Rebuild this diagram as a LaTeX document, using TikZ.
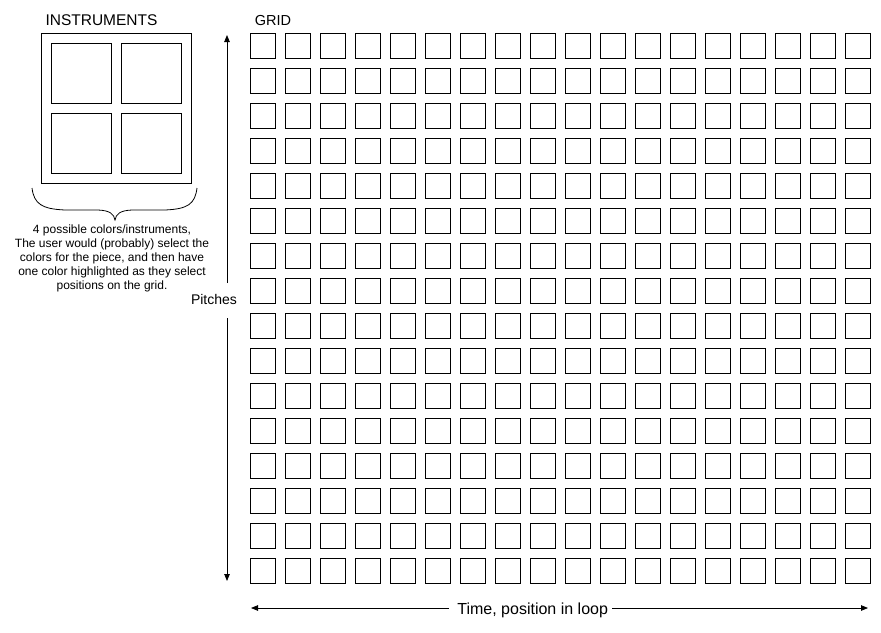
\documentclass[tikz,border=0pt]{standalone}
\usepackage{fontspec}
\setmainfont{Liberation Sans}
\usetikzlibrary{arrows.meta}
\begin{document}
\begin{tikzpicture}[x=1pt,y=-1pt,
  cell/.style={draw,line width=0.9pt,minimum size=25pt,inner sep=0pt},
  pad/.style={draw,line width=0.9pt,minimum size=60pt,inner sep=0pt},
  title/.style={font=\fontsize{14.5}{16}\selectfont,anchor=base,inner sep=0pt},
  axis/.style={line width=0.8pt,-{Triangle[length=7pt,width=5.5pt]}},
  axisline/.style={line width=0.8pt}]
\useasboundingbox (0,0) rectangle (881,632);
% instruments
\node[title,font=\fontsize{15.5}{17}\selectfont] (insttitle) at (101.5,25) {INSTRUMENTS};
\node[draw,line width=0.9pt,minimum size=150pt,inner sep=0pt] (inst) at (116.5,108.3) {};
\node[pad] (p11) at (81.3,73.3) {};
\node[pad] (p12) at (151.3,73.3) {};
\node[pad] (p21) at (81.3,143.3) {};
\node[pad] (p22) at (151.3,143.3) {};
% brace
\draw[line width=0.8pt] (32,188) .. controls (34,204) and (42,209) .. (65,210) -- (98,210)
  .. controls (110,210.5) and (114,214) .. (115,220)
  .. controls (116,214) and (120,210.5) .. (132,210) -- (165,210)
  .. controls (188,209) and (195,204) .. (197,188);
\node[align=center,inner sep=0pt,font=\fontsize{12}{14}\selectfont] (desc) at (112,258)
  {4 possible colors/instruments,\\The user would (probably) select the\\colors for the piece, and then have\\one color highlighted as they select\\positions on the grid.};
% grid
\node[title] (gridtitle) at (273,25) {GRID};
\foreach \i in {0,...,17}{
  \foreach \j in {0,...,15}{
    \node[cell] (g-\i-\j) at ({262.5+35*\i},{45.5+35*\j}) {};
  }
}
% pitches axis
\node[title,font=\fontsize{14}{16}\selectfont] (pitches) at (214,304) {Pitches};
\coordinate (ptop) at (227,35);
\coordinate (pa) at (227,283);
\coordinate (pb) at (227,318);
\coordinate (pbot) at (227,581);
\draw[axis] (pa) -- (ptop);
\draw[axis] (pb) -- (pbot);
% time axis
\node[title,font=\fontsize{16}{18}\selectfont] (time) at (532.7,614) {Time, position in loop};
\coordinate (tl) at (251,608);
\coordinate (tr) at (868,608);
\coordinate (ta) at (449,608);
\coordinate (tb) at (612,608);
\draw[axis] (ta) -- (tl);
\draw[axis] (tb) -- (tr);
\end{tikzpicture}
\end{document}
